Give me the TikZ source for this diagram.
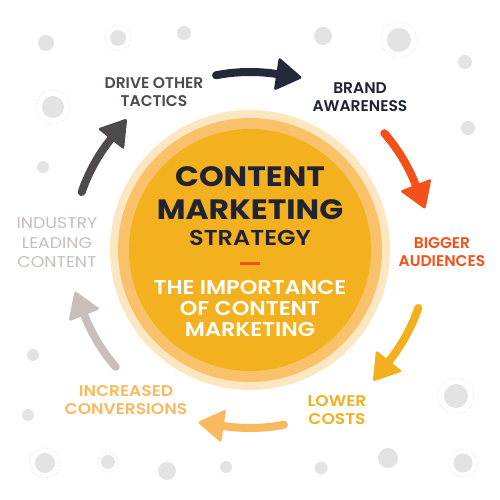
\documentclass[tikz,border=0pt]{standalone}
\usepackage{fontspec}
\setmainfont{Poppins}
\newfontfamily\semib{Poppins SemiBold}
\usetikzlibrary{calc}
\definecolor{navy}{HTML}{1F2333}
\definecolor{darkarrow}{HTML}{23283A}
\definecolor{drivegray}{HTML}{4F4A4B}
\definecolor{orangered}{HTML}{F5501A}
\definecolor{golden}{HTML}{F2B01E}
\definecolor{lightorange}{HTML}{F9BA5F}
\definecolor{taupe}{HTML}{C8BEBA}
\definecolor{ringpale}{HTML}{FDE7C0}
\definecolor{ringmid}{HTML}{F9C26A}
\definecolor{innergold}{HTML}{F3B11F}
\definecolor{dotc}{HTML}{E3E3E3}
\definecolor{dashred}{HTML}{F04E23}
\newcommand\cyclearrow[4]{%
  \coordinate (#1s) at ($(c)+(#3:178)$);
  \coordinate (#1t) at ($(c)+(#4:180)$);
  \draw[line width=8pt,line cap=round,#2] (#1s) arc[start angle=#3,end angle=#4+7,radius=178];
  \fill[#2,rounded corners=2.5pt] (#1t) -- ($(c)+(#4+8.5:195)$) -- ($(c)+(#4+8.5:161)$) -- cycle;
}
\tikzset{
  wide/.style={xscale=1.12,transform shape},
  title/.style={wide,font=\bfseries\fontsize{28}{28}\selectfont,text=navy,inner sep=0pt},
  sub/.style={wide,font=\semib\fontsize{21.5}{21.5}\selectfont,text=navy,inner sep=0pt},
  wline/.style={wide,font=\semib\fontsize{20}{20}\selectfont,text=white,inner sep=0pt},
  lab/.style={font=\semib\fontsize{15.5}{18.5}\selectfont,align=center,inner sep=0pt},
  labwide/.style={lab,xscale=1.1,transform shape},
  lablight/.style={wide,font=\fontsize{15.5}{19.5}\selectfont,align=center,inner sep=0pt},
}
\begin{document}
\begin{tikzpicture}[x=1pt,y=1pt]
\useasboundingbox (0,0) rectangle (500,500);
\fill[white] (0,0) rectangle (500,500);
% background dots
\foreach \x/\y/\r in {46/457/8,118/462/8,184/467/7,323/464/9,399/460/12,465/438/7,53/393/11,468/372/7,43/333/6,33/145/6,456/104/12,28/85/6,45/37/10,108/38/7,167/29/9,226/33/6,321/32/6.5,388/42/10,463/37/9.5}
  \fill[dotc] (\x,\y) circle (\r);
\foreach \x/\y/\R in {118/462/13,399/460/18,53/393/17,456/104/18,45/37/15,108/38/10,463/37/14}
  \draw[gray!35,dotted,line width=0.6pt] (\x,\y) circle (\R);
% central disc
\coordinate (c) at (250,250);
\fill[ringpale] (c) circle (140);
\fill[ringmid] (c) circle (132);
\fill[innergold] (c) circle (121);
\node[title] (t1) at (250,323) {CONTENT};
\node[title] (t2) at (250,290) {MARKETING};
\node[sub] (t3) at (250,262) {STRATEGY};
\fill[dashred] (240,234.5) rectangle (260,237.5);
\node[wline] (w1) at (250,213) {THE IMPORTANCE};
\node[wline] (w2) at (250,192) {OF CONTENT};
\node[wline] (w3) at (250,171) {MARKETING};
% labels
\node[lab,text=drivegray] (drive) at (154,408) {DRIVE OTHER\\TACTICS};
\node[lab,text=navy] (brand) at (360,403) {BRAND\\AWARENESS};
\node[lab,text=orangered] (bigger) at (442,248) {BIGGER\\AUDIENCES};
\node[labwide,text=golden] (lower) at (337,90) {LOWER\\COSTS};
\node[labwide,text=lightorange] (incr) at (126,100) {INCREASED\\CONVERSIONS};
\node[lablight,text=taupe] (ind) at (57,257) {INDUSTRY\\LEADING\\CONTENT};
% cycle arrows
\cyclearrow{a}{darkarrow}{101}{73}
\cyclearrow{b}{orangered}{41}{13}
\cyclearrow{d}{golden}{-19}{-47}
\cyclearrow{e}{lightorange}{-79}{-107}
\cyclearrow{f}{taupe}{-139}{-167}
\cyclearrow{g}{drivegray}{161}{133}
\end{tikzpicture}
\end{document}
